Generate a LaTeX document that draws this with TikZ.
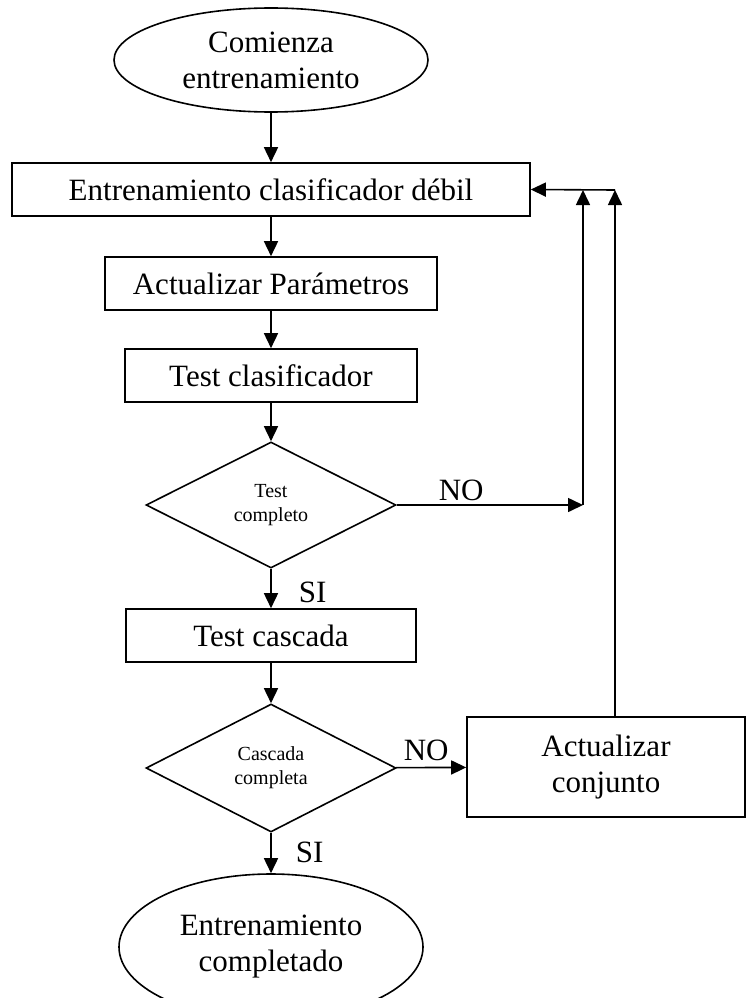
\documentclass[tikz,border=0pt]{standalone}
\usepackage{fontspec}
\setmainfont{Liberation Serif}
\usetikzlibrary{arrows.meta,shapes.geometric}

\begin{document}
\begin{tikzpicture}[x=1pt, y=-1pt, line width=1.6pt,
  every node/.style={font=\fontsize{31}{36}\selectfont},
  term/.style={draw, ellipse, inner sep=0pt, align=center},
  procbox/.style={draw, rectangle, inner sep=0pt, minimum height=53pt},
  decision/.style={draw, diamond, aspect=2, inner sep=0pt, align=center,
    minimum width=250pt, minimum height=126pt,
    font=\fontsize{20}{24}\selectfont},
  lbl/.style={anchor=base west, inner sep=0pt},
  arr/.style={-{Triangle[length=15pt, width=14pt]}}]
  \clip (0,0) rectangle (747,998);
  % main column, top to bottom
  \node[term, minimum width=314pt, minimum height=104pt] (start) at (271,60) {Comienza\\entrenamiento};
  \node[procbox, minimum width=518pt] (train) at (271,189.5) {Entrenamiento clasificador débil};
  \node[procbox, minimum width=332pt] (params) at (271,283.5) {Actualizar Parámetros};
  \node[procbox, minimum width=292pt] (test) at (271,375.5) {Test clasificador};
  \node[decision] (tdone) at (271,505) {Test\\completo};
  \node[procbox, minimum width=290pt] (cascade) at (271,635.5) {Test cascada};
  \node[decision, minimum height=128pt] (cdone) at (271,768) {Cascada\\completa};
  \node[term, minimum width=304pt, minimum height=146pt] (finish) at (271,947) {Entrenamiento\\completado};
  % side box
  \node[procbox, minimum width=278pt, minimum height=100pt, align=center] (update) at (606,767) {Actualizar\\conjunto};
  % joints of the feedback lines
  \coordinate (c1) at (583,505);
  \coordinate (j1) at (583,190);
  \coordinate (j2) at (615,190);
  \coordinate (u1) at (615,717);
  % main arrows
  \draw[arr] (start) -- (train);
  \draw[arr] (train) -- (params);
  \draw[arr] (params) -- (test);
  \draw[arr] (test) -- (tdone);
  \draw[arr] (tdone) -- (cascade);
  \draw[arr] (cascade) -- (cdone);
  \draw[arr] (cdone) -- (finish);
  \draw[arr] (cdone) -- (update);
  % feedback
  \draw[arr] (tdone.east) -- (c1);
  \draw[arr] (c1) -- (j1);
  \draw[arr] (u1) -- (j2);
  \draw[arr] (j2) -- (train.east);
  % labels
  \node[lbl] (no1) at (438,500) {NO};
  \node[lbl] (si1) at (298,602) {SI};
  \node[lbl] (no2) at (403,760) {NO};
  \node[lbl] (si2) at (295,862) {SI};
\end{tikzpicture}
\end{document}
